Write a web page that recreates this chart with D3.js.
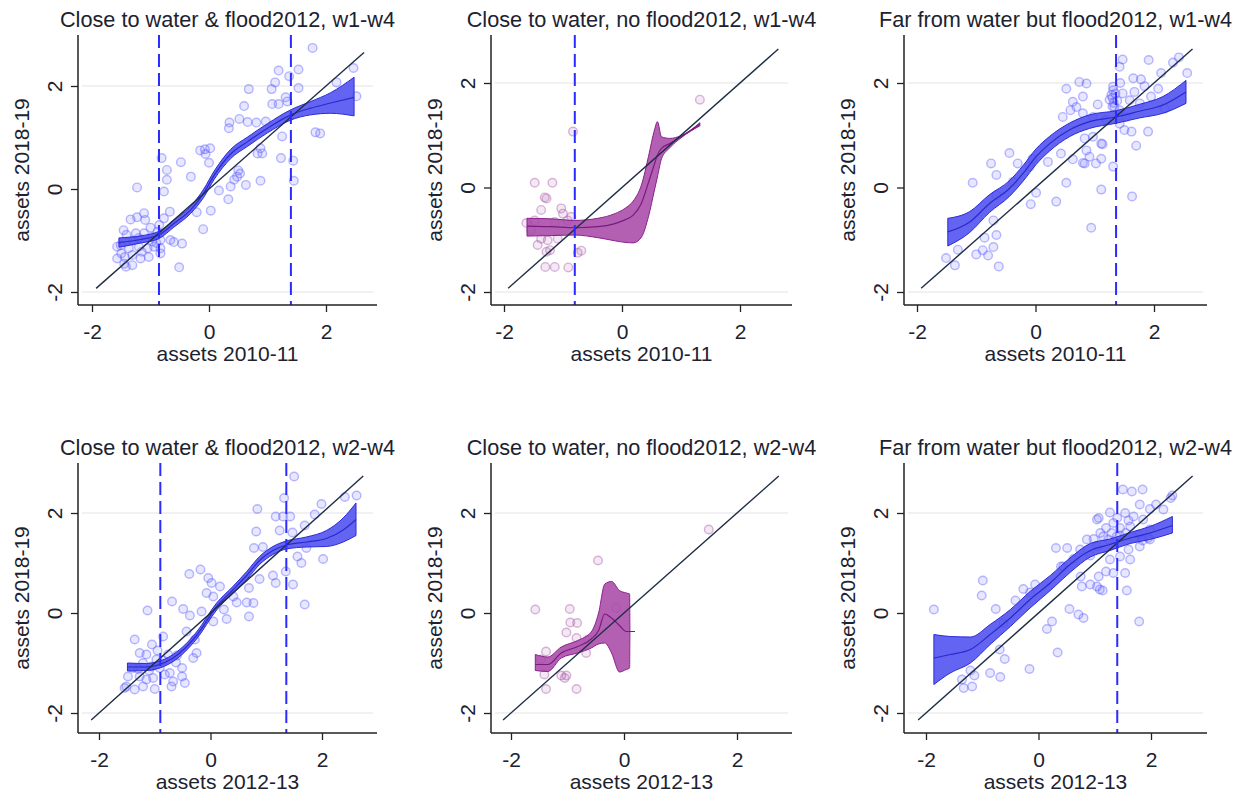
<!DOCTYPE html>
<html>
<head>
<meta charset="utf-8">
<script src="https://cdnjs.cloudflare.com/ajax/libs/d3/7.8.5/d3.min.js"></script>
<style>
  body { margin: 0; background: #fff; }
  svg { display: block; font-family: "Liberation Sans", Arial, sans-serif; }
</style>
</head>
<body>
<script>
// ---- data ----
const titles = [
  "Close to water & flood2012, w1-w4",
  "Close to water, no flood2012, w1-w4",
  "Far from water but flood2012, w1-w4",
  "Close to water & flood2012, w2-w4",
  "Close to water, no flood2012, w2-w4",
  "Far from water but flood2012, w2-w4"
]
const xLabels = ["assets 2010-11", "assets 2010-11", "assets 2010-11",
                 "assets 2012-13", "assets 2012-13", "assets 2012-13"]
const yLabel = "assets 2018-19"
const xTicks = [-2, 0, 2]
const yTicks = [-2, 0, 2]
const gridVals = [-2, 2]

// 45 degree reference line range, top row / bottom row
const diagTop = [-1.93, 2.65]
const diagBottom = [-2.14, 2.74]

// dashed vertical lines
const p1VLines = [-0.855, 1.40]
const p2VLines = [-0.80]
const p3VLines = [1.36]
const p4VLines = [-0.90, 1.36]
const p5VLines = []
const p6VLines = [1.40]

// scatter points [x, y]
const p1Points = [
  [1.77,2.74],[1.19,2.30],[1.53,2.32],[1.37,2.19],[2.47,2.35],[2.18,2.07],[1.13,2.07],[1.07,1.94],
  [0.68,1.94],[1.53,1.96],[2.52,1.80],[0.60,1.61],[1.08,1.65],[1.19,1.65],[1.34,1.70],[1.31,1.78],
  [0.52,1.36],[0.35,1.29],[0.66,1.30],[0.81,1.29],[0.97,1.31],[0.34,1.18],[1.82,1.10],[1.90,1.08],
  [1.25,1.02],[0.88,0.79],[0.83,0.69],[0.91,0.69],[1.23,0.60],[1.44,0.55],[-0.15,0.75],[-0.07,0.77],
  [0.02,0.79],[-0.06,0.68],[0.00,0.51],[-0.48,0.52],[-0.81,0.60],[-0.72,0.37],[-0.72,0.18],[-0.31,0.24],
  [0.50,0.36],[0.53,0.30],[0.48,0.24],[0.43,0.18],[0.63,0.08],[0.88,0.16],[0.37,0.05],[0.17,-0.03],
  [1.45,0.16],[-1.23,0.03],[-0.77,-0.05],[0.33,-0.20],[0.03,-0.42],[-0.21,-0.45],[-0.67,-0.44],[-0.77,-0.57],
  [-0.10,-0.78],[-1.11,-0.47],[-1.34,-0.59],[-1.23,-0.55],[-1.09,-0.60],[-0.46,-1.06],[-0.66,-0.99],[-0.60,-1.03],
  [-0.51,-1.52],[-1.46,-0.80],[-1.41,-0.89],[-1.25,-0.86],[-1.11,-0.86],[-0.97,-0.93],[-0.88,-0.83],[-0.83,-0.99],
  [-1.51,-1.09],[-1.37,-1.15],[-1.20,-1.12],[-1.05,-1.15],[-0.94,-1.12],[-1.57,-1.35],[-1.44,-1.32],[-1.31,-1.28],
  [-1.17,-1.35],[-1.03,-1.32],[-0.83,-1.25],[-1.42,-1.51],[-1.31,-1.48],[-1.45,-1.45],[-0.83,-1.15],[-1.57,-1.12],
  [-0.97,-1.02],[-1.30,-1.00],[-1.15,-1.22],[-0.90,-1.05],[-1.50,-1.25],[-1.00,-0.75],[-0.85,-0.70],[-1.20,-0.95]
]
const p2Points = [
  [1.32,1.68],[-0.83,1.07],[-1.48,0.09],[-1.18,0.09],[-1.31,-0.19],[-1.28,-0.21],[-1.37,-0.43],[-1.03,-0.40],
  [-1.00,-0.50],[-1.62,-0.68],[-1.48,-0.63],[-1.14,-0.66],[-0.92,-0.63],[-1.37,-0.98],[-1.26,-1.01],[-1.09,-0.98],
  [-1.43,-1.10],[-1.28,-1.23],[-1.22,-1.20],[-0.75,-1.25],[-0.69,-1.21],[-1.30,-1.52],[-1.14,-1.52],[-0.91,-1.53],
  [-0.86,-0.56],[-1.54,-0.82]
]
const p3Points = [
  [1.47,2.45],[1.91,2.44],[2.42,2.49],[2.32,2.39],[2.56,2.19],[1.42,2.31],[2.12,2.19],[0.74,2.02],
  [0.86,1.99],[1.43,2.00],[1.65,2.09],[1.78,2.07],[1.31,1.93],[1.84,1.94],[2.07,1.89],[0.52,1.89],
  [0.80,1.74],[0.63,1.64],[0.69,1.54],[0.59,1.48],[1.05,1.59],[1.25,1.68],[1.28,1.77],[1.47,1.80],
  [1.59,1.67],[1.67,1.83],[1.76,1.61],[1.95,1.74],[2.18,1.51],[0.46,1.35],[0.80,1.42],[0.97,1.35],
  [1.19,1.29],[1.42,1.22],[1.50,1.10],[1.62,1.07],[1.90,1.07],[0.83,0.94],[0.97,0.97],[1.11,0.84],
  [1.13,0.83],[1.70,0.80],[0.86,0.71],[0.43,0.65],[0.63,0.54],[0.80,0.47],[0.83,0.46],[1.02,0.46],
  [1.11,0.55],[1.31,0.40],[0.91,0.59],[-0.44,0.66],[-0.75,0.46],[-0.30,0.46],[-0.05,0.55],[-0.10,0.40],
  [0.21,0.49],[-0.66,0.24],[-1.06,0.09],[-0.38,0.11],[0.52,0.09],[1.11,-0.04],[0.01,-0.10],[1.63,-0.17],
  [-0.08,-0.32],[0.35,-0.27],[-0.66,-0.15],[-0.71,-0.63],[0.94,-0.77],[-0.86,-0.96],[-0.66,-0.91],[-0.71,-1.14],
  [-0.89,-1.20],[-1.00,-1.28],[-0.80,-1.30],[-1.31,-1.19],[-1.51,-1.35],[-1.36,-1.49],[-0.62,-1.51],[1.31,1.86],
  [1.33,1.54],[1.42,1.48],[1.53,1.35],[1.30,1.72],[1.32,1.62],[1.35,1.80],[1.38,1.66],[1.30,1.55]
]
const p4Points = [
  [1.50,2.73],[1.32,2.30],[2.62,2.35],[2.41,2.32],[1.99,2.18],[0.84,2.08],[1.17,1.93],[1.30,1.93],
  [1.43,1.93],[1.87,1.97],[0.82,1.63],[1.24,1.65],[1.47,1.61],[1.69,1.75],[0.78,1.30],[0.94,1.32],
  [1.56,1.13],[1.63,1.00],[2.02,1.08],[1.72,1.30],[1.12,0.75],[1.17,0.60],[1.35,0.83],[1.48,0.57],
  [0.88,0.68],[0.69,0.50],[0.65,0.21],[0.77,0.20],[0.69,-0.07],[1.69,0.17],[-0.18,0.87],[-0.38,0.78],
  [-0.04,0.70],[0.02,0.60],[0.17,0.53],[-0.07,0.40],[0.05,0.33],[0.41,0.33],[0.47,0.21],[0.24,0.07],
  [0.29,-0.12],[0.05,-0.17],[-0.69,0.23],[-0.49,0.08],[-0.37,-0.05],[-0.16,0.03],[-1.13,0.05],[-1.36,-0.53],
  [-0.85,-0.47],[-0.43,-0.37],[-0.28,-0.53],[-0.25,-0.80],[-0.31,-0.90],[-1.05,-0.63],[-1.27,-0.80],[-1.15,-0.83],
  [-0.97,-0.93],[-0.76,-0.83],[-0.62,-0.99],[-0.51,-1.10],[-0.73,-1.20],[-0.51,-1.27],[-0.46,-1.40],[-0.70,-1.47],
  [-1.03,-1.30],[-1.15,-1.33],[-1.27,-1.27],[-1.48,-1.27],[-1.51,-1.47],[-1.36,-1.53],[-1.21,-1.47],[-1.00,-1.52],
  [-1.39,-1.10],[-0.91,-1.10],[-0.82,-1.23],[-1.06,-1.07],[-1.21,-1.00],[-0.67,-1.37],[-1.54,-1.50],[-0.95,-0.75],
  [-1.10,-1.15],[-0.85,-0.95],[-1.30,-1.12],[-0.60,-0.85]
]
const p5Points = [
  [1.50,1.67],[-0.46,1.05],[-1.57,0.07],[-0.96,0.08],[-0.95,-0.19],[-0.83,-0.20],[-1.02,-0.39],[-0.84,-0.50],
  [-1.38,-0.77],[-0.67,-0.80],[-1.47,-0.93],[-1.41,-1.23],[-1.11,-1.25],[-1.02,-1.25],[-1.05,-1.30],[-1.38,-1.52],
  [-0.84,-1.52],[-0.14,0.10],[-0.64,-0.53]
]
const p6Points = [
  [-1.86,0.07],[-0.99,0.65],[-1.01,0.35],[-0.76,0.08],[-0.41,0.25],[-0.27,0.48],[-0.06,0.57],[-0.15,0.41],
  [-0.62,-0.20],[-0.69,-0.73],[-0.60,-0.92],[-0.86,-1.20],[-0.68,-1.28],[-1.14,-1.25],[-1.21,-1.15],[-1.36,-1.33],
  [-1.33,-1.50],[-1.18,-1.47],[-0.16,-1.12],[0.34,-0.79],[0.15,-0.32],[0.24,-0.17],[0.55,0.08],[0.71,-0.03],
  [0.80,-0.10],[0.40,0.93],[0.31,1.30],[0.51,1.30],[0.74,1.27],[0.62,1.08],[0.86,1.47],[0.98,1.48],
  [1.04,1.87],[1.07,1.90],[1.27,2.01],[1.50,2.47],[1.66,2.43],[1.85,2.47],[1.54,2.00],[1.69,1.93],
  [1.80,2.17],[1.98,2.08],[2.09,2.17],[2.22,2.07],[2.35,2.30],[2.38,2.35],[1.33,1.80],[1.45,1.70],
  [1.63,1.73],[1.86,1.87],[1.98,1.47],[1.80,1.33],[1.60,1.27],[1.45,1.13],[1.63,1.07],[1.54,0.80],
  [1.33,0.80],[1.20,0.83],[1.57,0.45],[1.09,0.47],[1.14,0.45],[1.04,0.53],[0.92,0.57],[0.77,0.53],
  [0.75,0.73],[1.07,0.73],[1.79,-0.17],[1.15,1.53],[1.24,1.47],[1.39,1.53],[1.78,1.57],[1.98,1.67],
  [1.04,1.33],[0.92,1.15],[1.27,1.07],[0.44,0.93],[1.10,1.60],[1.20,1.70],[1.30,1.60],[1.45,1.55],
  [1.55,1.60],[1.70,1.50],[1.85,1.45],[1.95,1.50],[1.40,1.90],[1.60,1.85]
]

// local polynomial fits [x, fit, lower, upper]
const p1Fit = [
  [-1.54,-1.04,-1.13,-0.95],[-1.17,-0.98,-1.05,-0.91],[-0.85,-0.89,-0.96,-0.82],[-0.60,-0.67,-0.74,-0.60],
  [-0.31,-0.40,-0.47,-0.33],[-0.09,-0.08,-0.16,0.00],[0.09,0.27,0.19,0.35],[0.37,0.68,0.59,0.77],
  [0.66,0.92,0.83,1.01],[1.00,1.18,1.09,1.27],[1.40,1.44,1.34,1.54],[1.74,1.57,1.44,1.70],
  [2.08,1.67,1.47,1.87],[2.48,1.78,1.42,2.17]
]
const p2Fit = [
  [-1.61,-0.74,-0.93,-0.59],[-1.20,-0.75,-0.92,-0.60],[-0.80,-0.77,-0.91,-0.63],[-0.41,-0.75,-0.96,-0.59],
  [-0.12,-0.69,-1.02,-0.50],[0.05,-0.62,-1.05,-0.40],[0.19,-0.53,-1.06,-0.26],[0.33,-0.30,-0.95,0.05],
  [0.45,0.10,-0.55,0.60],[0.55,0.45,-0.05,1.10],[0.60,0.62,0.20,1.26],[0.67,0.75,0.55,0.97],
  [0.81,0.84,0.76,0.94],[1.00,0.97,0.95,0.99],[1.32,1.21,1.18,1.24]
]
const p3Fit = [
  [-1.48,-0.85,-1.12,-0.59],[-1.11,-0.66,-0.86,-0.46],[-0.78,-0.31,-0.48,-0.14],[-0.44,-0.02,-0.17,0.13],
  [-0.21,0.27,0.12,0.42],[0.01,0.59,0.44,0.74],[0.24,0.84,0.70,0.98],[0.57,1.10,0.97,1.23],
  [0.91,1.26,1.13,1.39],[1.36,1.35,1.23,1.47],[1.75,1.46,1.33,1.59],[2.15,1.58,1.42,1.74],
  [2.54,1.83,1.61,2.05]
]
const p4Fit = [
  [-1.49,-1.08,-1.16,-1.00],[-1.15,-1.08,-1.15,-1.01],[-0.97,-1.05,-1.12,-0.98],[-0.67,-0.90,-0.97,-0.83],
  [-0.25,-0.45,-0.52,-0.38],[0.11,0.13,0.06,0.20],[0.41,0.47,0.40,0.54],[0.65,0.75,0.67,0.83],
  [0.88,1.05,0.97,1.13],[1.12,1.25,1.17,1.33],[1.36,1.36,1.28,1.44],[1.72,1.42,1.32,1.52],
  [2.08,1.49,1.33,1.65],[2.38,1.66,1.42,1.90],[2.61,1.87,1.55,2.20]
]
const p5Fit = [
  [-1.57,-1.03,-1.15,-0.83],[-1.35,-1.03,-1.17,-0.88],[-1.11,-0.80,-0.90,-0.68],[-0.82,-0.67,-0.80,-0.55],
  [-0.58,-0.52,-0.70,-0.38],[-0.45,-0.35,-0.62,0.00],[-0.34,-0.02,-0.60,0.58],[-0.22,-0.10,-0.80,0.63],
  [-0.08,-0.25,-1.18,0.45],[0.04,-0.37,-1.13,0.40],[0.10,-0.37,-1.10,0.38],[0.105,-0.37,-0.37,-0.37],
  [0.19,-0.37,-0.37,-0.37]
]
const p6Fit = [
  [-1.86,-0.90,-1.43,-0.43],[-1.57,-0.83,-1.20,-0.47],[-1.21,-0.73,-1.00,-0.48],[-0.86,-0.43,-0.63,-0.23],
  [-0.50,-0.10,-0.27,0.07],[-0.15,0.27,0.10,0.43],[0.21,0.60,0.45,0.75],[0.56,0.97,0.81,1.10],
  [0.92,1.25,1.12,1.39],[1.27,1.37,1.25,1.48],[1.63,1.50,1.39,1.61],[1.98,1.60,1.47,1.73],
  [2.38,1.75,1.60,1.93]
]

// ---- drawing ----
const blue = {pt: "rgba(85,85,255,0.4)", ptFill: "rgba(85,85,255,0.14)", band: "#4f4ff0", edge: "#2b2bd6", line: "#2a2acc"}
const purple = {pt: "rgba(160,80,160,0.4)", ptFill: "rgba(160,80,160,0.13)", band: "#a84aa8", edge: "#8a1f8e", line: "#7a1a80"}

const panels = [
  {pts: p1Points, fit: p1Fit, vl: p1VLines, col: blue,   diag: diagTop},
  {pts: p2Points, fit: p2Fit, vl: p2VLines, col: purple, diag: diagTop},
  {pts: p3Points, fit: p3Fit, vl: p3VLines, col: blue,   diag: diagTop},
  {pts: p4Points, fit: p4Fit, vl: p4VLines, col: blue,   diag: diagBottom},
  {pts: p5Points, fit: p5Fit, vl: p5VLines, col: purple, diag: diagBottom},
  {pts: p6Points, fit: p6Fit, vl: p6VLines, col: blue,   diag: diagBottom}
]

// pixel frames: axis box and where -2 / 2 land
const frames = [
  {left: 78,  right: 377,  top: 35,  bottom: 305, x0: 92,  x1: 326,  y0: 292, y1: 86},
  {left: 491, right: 792,  top: 35,  bottom: 305, x0: 504, x1: 740,  y0: 292, y1: 83},
  {left: 904, right: 1207, top: 35,  bottom: 305, x0: 917, x1: 1154, y0: 292, y1: 83},
  {left: 78,  right: 377,  top: 463, bottom: 733, x0: 99,  x1: 322,  y0: 713, y1: 513},
  {left: 491, right: 792,  top: 463, bottom: 733, x0: 511, x1: 737,  y0: 713, y1: 513},
  {left: 904, right: 1207, top: 463, bottom: 733, x0: 926, x1: 1151, y0: 713, y1: 513}
]

const svg = d3.select("body").append("svg")
  .attr("width", 1245)
  .attr("height", 793)

const textCol = "#1c2230"
const fontFam = "'Liberation Sans', Arial, sans-serif"
const plain = function(d) { return String(d) }   // keep ascii hyphen like the original

panels.forEach(function(p, i) {
  var f = frames[i]
  var x = d3.scaleLinear().domain([-2, 2]).range([f.x0, f.x1])
  var y = d3.scaleLinear().domain([-2, 2]).range([f.y0, f.y1])
  var g = svg.append("g")

  // faint gridlines
  g.selectAll(".grid").data(gridVals).enter().append("line")
    .attr("x1", f.left + 4).attr("x2", f.right - 4)
    .attr("y1", function(d) { return y(d) }).attr("y2", function(d) { return y(d) })
    .attr("stroke", "#ececec").attr("stroke-width", 1.5)

  // scatter
  g.selectAll(".pt").data(p.pts).enter().append("circle")
    .attr("cx", function(d) { return x(d[0]) })
    .attr("cy", function(d) { return y(d[1]) })
    .attr("r", 4.3)
    .attr("fill", p.col.ptFill)
    .attr("stroke", p.col.pt)
    .attr("stroke-width", 1.4)

  // confidence band
  var area = d3.area()
    .x(function(d) { return x(d[0]) })
    .y0(function(d) { return y(d[2]) })
    .y1(function(d) { return y(d[3]) })
    .curve(d3.curveMonotoneX)
  g.append("path").datum(p.fit)
    .attr("d", area)
    .attr("fill", p.col.band).attr("fill-opacity", 0.88)
    .attr("stroke", p.col.edge).attr("stroke-width", 1)

  var fitLine = d3.line()
    .x(function(d) { return x(d[0]) })
    .y(function(d) { return y(d[1]) })
    .curve(d3.curveMonotoneX)
  g.append("path").datum(p.fit)
    .attr("d", fitLine)
    .attr("fill", "none")
    .attr("stroke", p.col.line).attr("stroke-width", 1.2)

  // 45 degree line
  g.append("line")
    .attr("x1", x(p.diag[0])).attr("y1", y(p.diag[0]))
    .attr("x2", x(p.diag[1])).attr("y2", y(p.diag[1]))
    .attr("stroke", "#1e2e44").attr("stroke-width", 1.4)

  // dashed verticals
  g.selectAll(".vl").data(p.vl).enter().append("line")
    .attr("x1", function(d) { return x(d) }).attr("x2", function(d) { return x(d) })
    .attr("y1", f.top).attr("y2", f.bottom)
    .attr("stroke", "#2b2bff").attr("stroke-width", 2)
    .attr("stroke-dasharray", "13,6")

  // axes
  var xAxis = g.append("g")
    .attr("transform", "translate(0," + f.bottom + ")")
    .call(d3.axisBottom(x).tickValues(xTicks).tickSize(7).tickFormat(plain))
  xAxis.select(".domain").remove()
  xAxis.selectAll("line").attr("stroke", "#222").attr("stroke-width", 1.3)
  xAxis.selectAll("text")
    .attr("y", 34).attr("dy", null)
    .attr("fill", textCol).style("font-size", "21px")
    .style("font-family", fontFam)
  g.append("line")
    .attr("x1", f.left).attr("x2", f.right)
    .attr("y1", f.bottom).attr("y2", f.bottom)
    .attr("stroke", "#222").attr("stroke-width", 1.5)

  var yAxis = g.append("g")
    .attr("transform", "translate(" + f.left + ",0)")
    .call(d3.axisLeft(y).tickValues(yTicks).tickSize(7).tickFormat(plain))
  yAxis.select(".domain").remove()
  yAxis.selectAll("line").attr("stroke", "#222").attr("stroke-width", 1.3)
  yAxis.selectAll("text")
    .attr("x", null).attr("dy", null)
    .attr("transform", "translate(-16,0) rotate(-90)")
    .attr("text-anchor", "middle")
    .attr("fill", textCol).style("font-size", "21px")
    .style("font-family", fontFam)
  g.append("line")
    .attr("x1", f.left).attr("x2", f.left)
    .attr("y1", f.top).attr("y2", f.bottom)
    .attr("stroke", "#222").attr("stroke-width", 1.5)

  // labels
  var cx = (f.left + f.right) / 2
  g.append("text")
    .attr("x", cx).attr("y", f.top - 8)
    .attr("text-anchor", "middle")
    .attr("fill", textCol).style("font-size", "21.7px")
    .text(titles[i])
  g.append("text")
    .attr("x", cx).attr("y", f.bottom + 56)
    .attr("text-anchor", "middle")
    .attr("fill", textCol).style("font-size", "21px")
    .text(xLabels[i])
  g.append("text")
    .attr("transform", "translate(" + (f.left - 49) + "," + ((f.top + f.bottom) / 2) + ") rotate(-90)")
    .attr("text-anchor", "middle")
    .attr("fill", textCol).style("font-size", "21px")
    .text(yLabel)
})
</script>
</body>
</html>
